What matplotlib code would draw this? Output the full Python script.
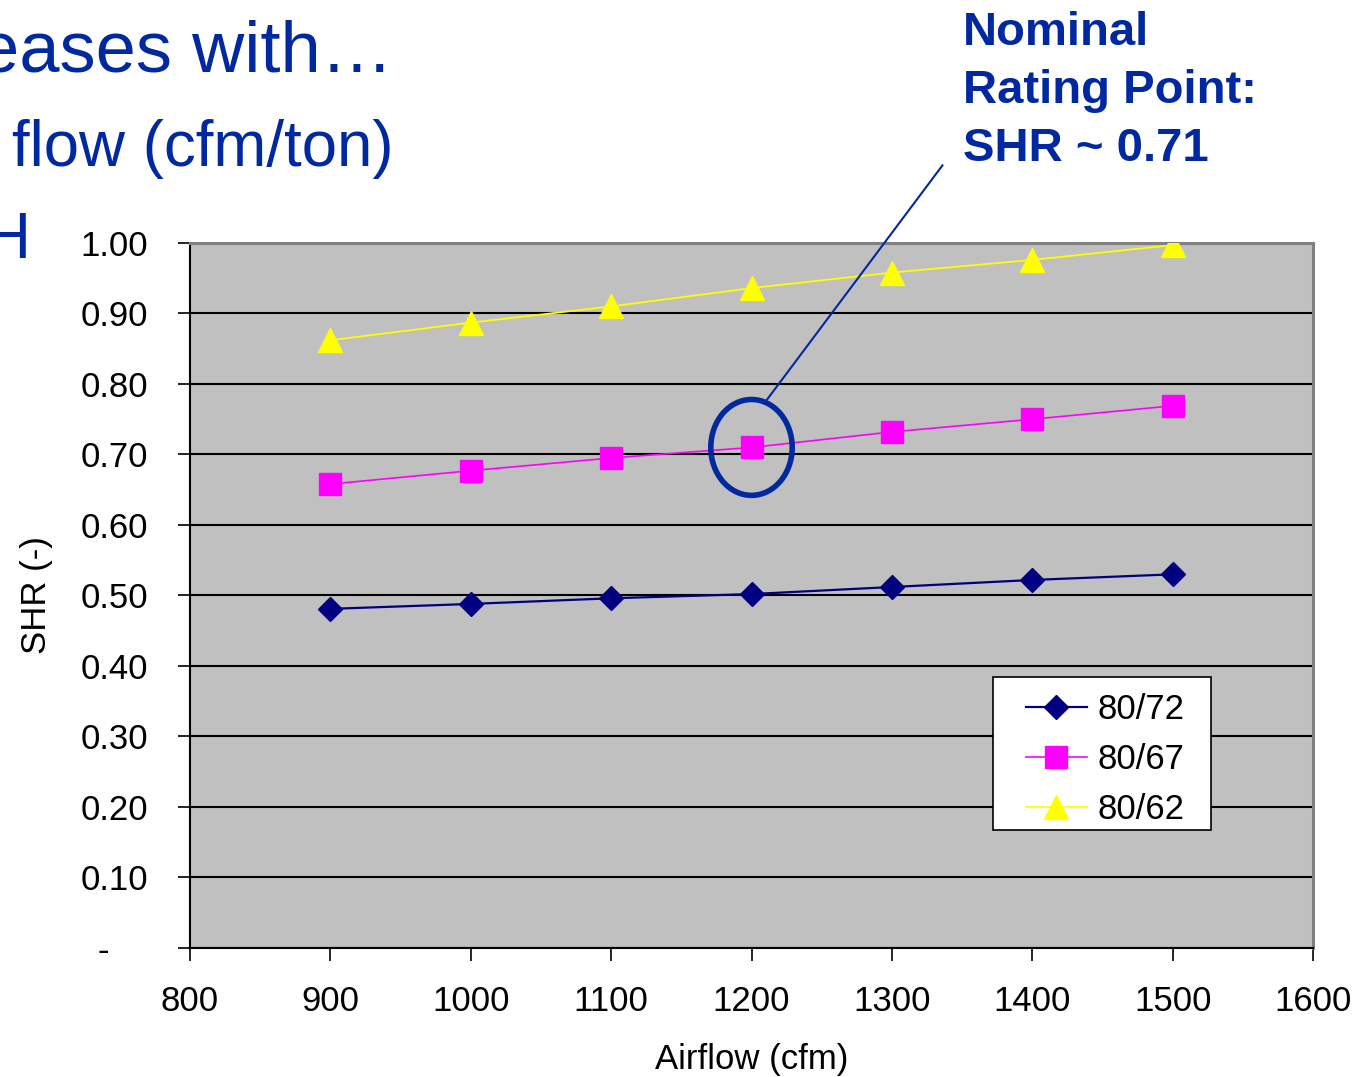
import matplotlib
matplotlib.use("Agg")
import matplotlib.pyplot as plt
from matplotlib.patches import Ellipse, Rectangle
from matplotlib.ticker import FuncFormatter, MultipleLocator

plt.rcParams["font.family"] = ["Liberation Sans", "DejaVu Sans"]

airflow = [900, 1000, 1100, 1200, 1300, 1400, 1500]
shr_80_72 = [0.481, 0.488, 0.496, 0.502, 0.512, 0.522, 0.530]
shr_80_67 = [0.658, 0.677, 0.695, 0.710, 0.732, 0.750, 0.769]
shr_80_62 = [0.862, 0.887, 0.910, 0.936, 0.958, 0.976, 0.997]
series_labels = ["80/72", "80/67", "80/62"]

rating_airflow = 1200
rating_shr = 0.71
callout_end = (1336, 1.11)
callout_lines = ["Nominal", "Rating Point:", f"SHR ~ {rating_shr:.2f}"]

TEXT_BLUE = "#0028A0"
FS = 25

fig = plt.figure(figsize=(13.66, 10.77), dpi=100)
ax = fig.add_axes([0.1391, 0.1198, 0.8221, 0.6546])
ax.set_facecolor("#C0C0C0")

ax.plot(airflow, shr_80_72, color="#000080", lw=1.6, marker="D",
        ms=12, mec="#000080", label=series_labels[0], zorder=4)
ax.plot(airflow, shr_80_67, color="#FF00FF", lw=1.2, marker="s",
        ms=15.5, mec="#FF00FF", label=series_labels[1], zorder=4)
ax.plot(airflow, shr_80_62, color="#FFFF00", lw=1.3, marker="^",
        ms=17, mec="#FFFF00", label=series_labels[2], zorder=4)

ax.set_xlim(800, 1600)
ax.set_ylim(0, 1.0)
ax.xaxis.set_major_locator(MultipleLocator(100))
ax.yaxis.set_major_locator(MultipleLocator(0.1))
ax.yaxis.set_major_formatter(
    FuncFormatter(lambda v, _: "-    " if abs(v) < 1e-9 else f"{v:.2f}"))
ax.grid(axis="y", color="black", lw=1.5, zorder=1)
ax.set_axisbelow(True)

for side in ("left", "bottom"):
    ax.spines[side].set_color("black")
    ax.spines[side].set_linewidth(1.5)
for side in ("top", "right"):
    ax.spines[side].set_color("#808080")
    ax.spines[side].set_linewidth(2.2)

ax.tick_params(axis="both", direction="out", length=9, width=1.2,
               labelsize=FS, colors="black")
ax.tick_params(axis="y", pad=21)
ax.tick_params(axis="x", pad=18)

ax.set_xlabel("Airflow (cfm)", fontsize=FS)
ax.set_ylabel("SHR (-)", fontsize=FS)
ax.xaxis.set_label_coords(0.5, -0.135)
ax.yaxis.set_label_coords(-0.1217, 0.5)

# circle around the nominal rating point with a leader to the callout
ring = Ellipse((rating_airflow, rating_shr), width=58, height=0.136,
               fill=False, ec=TEXT_BLUE, lw=4, zorder=5)
ax.add_patch(ring)
ax.plot([1210, callout_end[0]], [0.775, callout_end[1]], color=TEXT_BLUE,
        lw=1.5, clip_on=False, zorder=5)

# legend box drawn separately so its padding can be wider than tall
ax.add_patch(Rectangle((0.715, 0.1674), 0.1942, 0.217, transform=ax.transAxes,
                       fc="white", ec="black", lw=1.2, zorder=6))
leg = ax.legend(loc="upper left", bbox_to_anchor=(0.7444, 0.3617),
                fontsize=FS, frameon=False, handlelength=1.75,
                handletextpad=0.3, labelspacing=0.49, borderpad=0,
                borderaxespad=0)
leg.set_zorder(7)

# slide text around the chart
fig.text(393 / 1366, 1 - 72 / 1077, "eases with\u2026", fontsize=52,
         color=TEXT_BLUE, ha="right", va="baseline")
fig.text(394 / 1366, 1 - 166 / 1077, "flow (cfm/ton)", fontsize=45.8,
         color=TEXT_BLUE, ha="right", va="baseline")
fig.text(31 / 1366, 1 - 258 / 1077, "H", fontsize=45.8,
         color=TEXT_BLUE, ha="right", va="baseline")
for i, line in enumerate(callout_lines):
    fig.text(963 / 1366, 1 - (45 + 58 * i) / 1077, line, fontsize=34,
             fontweight="bold", color=TEXT_BLUE, ha="left", va="baseline")

fig.savefig("out.png", dpi=100)
